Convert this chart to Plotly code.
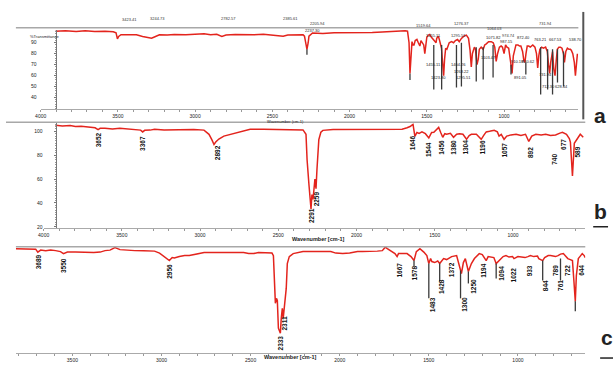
import plotly.graph_objects as go

# ---------------- data ----------------
# spectrum a
wn_a = [3904, 3840, 3770, 3712, 3650, 3583, 3530, 3512, 3503, 3495, 3480, 3440, 3380, 3340, 3300, 3282,
        3260, 3231, 3180, 3135, 3060, 3006, 2942, 2900, 2860, 2827, 2800, 2740, 2686, 2620, 2558, 2494,
        2450, 2430, 2400, 2350, 2301, 2292, 2282, 2276, 2268, 2263, 2240, 2173, 2100, 2045, 1980, 1917,
        1853, 1789, 1724, 1680, 1640, 1625, 1615, 1609, 1603, 1596, 1590, 1583, 1575, 1564, 1555, 1545,
        1538, 1532, 1520, 1513, 1505, 1500, 1490, 1481, 1470, 1455, 1440, 1436, 1425, 1417, 1405, 1398,
        1391, 1385, 1378, 1370, 1355, 1340, 1327, 1315, 1301, 1290, 1276, 1260, 1244, 1230, 1220, 1212,
        1205, 1192, 1185, 1175, 1167, 1160, 1148, 1135, 1125, 1115, 1100, 1083, 1070, 1060, 1051, 1042,
        1030, 1019, 1010, 1000, 990, 981, 970, 955, 948, 940, 930, 923, 910, 900, 891, 880, 872, 865,
        858, 850, 840, 830, 814, 800, 790, 782, 775, 768, 757, 745, 731, 720, 712, 705, 698, 690, 686,
        678, 670, 662, 655, 645, 635, 625, 615, 609, 600, 590, 580, 570, 564, 555, 545, 538, 530, 525]
t_a = [100.5, 100.9, 100.2, 100.9, 100.2, 100.5, 100, 99, 93.5, 95.8, 97.3, 97.5, 97.3, 95.8, 94.5, 94.2,
       95.5, 97.3, 97, 97.5, 97.3, 98, 98.2, 97.3, 97.8, 95.8, 97, 97.5, 97.3, 97.3, 97.8, 97,
       96.4, 96, 97, 97.3, 97.3, 96, 86, 84, 90, 96, 99, 98.5, 99.1, 99.1, 99.5, 99.5,
       99.3, 99.8, 100.5, 101, 100.9, 100.5, 90, 62, 80, 91, 88, 88, 92, 93, 90, 87,
       92, 91, 88, 80, 92, 95, 97, 97.5, 95, 92, 90, 94, 96, 92, 85, 72,
       60, 75, 85, 84, 90, 91, 90, 92, 93, 91, 94, 96, 97, 94, 83, 68,
       80, 86, 84, 70, 75, 84, 86, 84, 88, 89, 91, 91, 90, 86, 73, 80,
       86, 87, 86, 80, 88, 86, 85, 70, 62, 78, 86, 88, 88, 87, 87, 82, 74, 72,
       80, 87, 87, 86, 88, 86, 80, 67, 78, 84, 86, 85, 86, 82, 70, 62, 72, 80, 82,
       66, 60, 74, 84, 86, 86, 85, 80, 72, 82, 85, 84, 84, 83, 80, 72, 60, 74, 80]

# spectrum b
wn_b = [3924, 3880, 3830, 3797, 3760, 3734, 3700, 3671, 3652, 3639, 3608, 3560, 3513, 3460, 3418, 3380,
        3367, 3354, 3320, 3291, 3230, 3165, 3100, 3040, 2975, 2943, 2925, 2911, 2900, 2880, 2848, 2820,
        2785, 2750, 2722, 2680, 2595, 2520, 2468, 2400, 2342, 2323, 2316, 2304, 2297, 2291, 2285, 2278,
        2266, 2259, 2253, 2247, 2241, 2228, 2215, 2150, 2025, 1950, 1836, 1760, 1709, 1677, 1658, 1639,
        1627, 1614, 1600, 1582, 1560, 1538, 1520, 1506, 1475, 1462, 1449, 1436, 1424, 1400, 1380, 1360,
        1342, 1320, 1297, 1280, 1266, 1234, 1203, 1185, 1171, 1150, 1120, 1100, 1089, 1075, 1057, 1040,
        1013, 980, 949, 920, 899, 880, 854, 820, 791, 760, 728, 700, 684, 658, 640, 633, 620, 608,
        589, 570, 551]
t_b = [105, 104.5, 104.8, 104, 104.2, 103.8, 103.5, 103, 101.5, 102.5, 102.5, 102, 102.5, 102, 101.5, 101,
       99.5, 100.8, 101, 101.7, 101.2, 101.5, 101.7, 101.5, 101, 97.5, 93, 89, 91, 93.5, 96, 97,
       98.3, 99.5, 100.8, 101.7, 101.7, 101.7, 101.7, 101.5, 101.2, 97.5, 76, 55, 43, 35, 47, 43,
       60, 52, 68, 85, 93, 99.2, 100.8, 101.5, 101.7, 101.5, 101.7, 101.5, 101.7, 103, 104, 105.8,
       95.8, 99, 98.3, 99.5, 98, 94.5, 99, 99.2, 103.3, 99, 95, 98, 97.5, 98.3, 95, 97.5,
       98, 97.5, 93.3, 96.5, 97.5, 97.5, 93.3, 97, 99.5, 100, 100.8, 99.5, 96, 97.5, 93.3, 96,
       97, 97.5, 96.5, 97.5, 91.5, 96, 97.5, 97, 97.5, 96.5, 97, 98.5, 99.2, 97.5, 94, 91, 62.5, 90,
       93.3, 97.5, 95]

# spectrum c
wn_c = [3817, 3761, 3720, 3706, 3694, 3678, 3650, 3622, 3594, 3583, 3567, 3550, 3540, 3528, 3483, 3428,
        3380, 3344, 3317, 3289, 3261, 3233, 3180, 3150, 3100, 3039, 3011, 2983, 2972, 2956, 2940, 2928,
        2900, 2870, 2844, 2817, 2761, 2700, 2650, 2600, 2539, 2511, 2490, 2483, 2456, 2417, 2380, 2372,
        2367, 2361, 2355, 2350, 2344, 2333, 2328, 2322, 2317, 2311, 2300, 2294, 2283, 2261, 2206, 2150,
        2094, 2050, 2022, 1983, 1944, 1900, 1872, 1830, 1789, 1761, 1744, 1733, 1706, 1690, 1678, 1670,
        1650, 1622, 1600, 1583, 1570, 1550, 1528, 1511, 1500, 1490, 1483, 1467, 1450, 1439, 1430, 1417,
        1400, 1385, 1372, 1344, 1333, 1322, 1317, 1306, 1295, 1278, 1261, 1244, 1230, 1217, 1200, 1178,
        1167, 1150, 1135, 1122, 1106, 1090, 1083, 1067, 1050, 1030, 1022, 1000, 983, 960, 944, 930,
        911, 890, 883, 861, 850, 830, 817, 800, 789, 775, 761, 745, 733, 720, 706, 694, 686, 678,
        672, 661, 650, 639, 628, 622]
t_c = [102, 101.8, 102.2, 101.5, 98.5, 100.5, 100, 100.5, 100, 99.5, 99, 97, 98, 98.5, 98.5, 98.2,
       98, 98.5, 100, 100.5, 103, 101, 100, 100, 99.8, 99.5, 97.5, 94, 92, 90, 93, 92.5,
       94, 95, 95, 96, 98, 98, 98, 98, 98, 97, 96.5, 97, 98, 98, 97.5, 95,
       77, 47, 52, 50, 22, 17, 32, 42, 32, 44, 62, 87, 94, 97, 99, 99,
       99, 99, 97.5, 97, 97.5, 99, 99, 99, 99.5, 100, 103.5, 102, 99, 97, 94, 97,
       97, 97, 94, 90, 99, 102, 98.5, 95, 87, 92, 89, 88, 89.5, 87, 89, 92,
       91, 93, 94, 95, 88, 80, 77, 88, 92, 79, 87, 92, 95, 97, 96, 90,
       94, 93.5, 93, 87, 90, 93, 94, 95, 93.5, 94, 92, 94, 93.5, 93, 94, 95,
       94, 94.5, 92, 90, 93, 95, 95, 94, 94, 95, 96.5, 97, 95, 92, 91, 90, 70, 49,
       75, 92, 94.5, 97, 95, 93]

# peak label lines (wavenumber, top %T, bottom %T)
lead_a_wn = [2276, 1609, 1455, 1404, 1308, 1276, 1180, 1135, 1071, 955, 859, 763, 718, 686, 654, 615]
lead_a_top = [84, 62, 88, 88, 88, 90, 86, 86, 88, 70, 72, 86, 84, 84, 84, 82]
lead_a_bot = [79, 56, 47.3, 47.3, 49, 50, 54.5, 56.4, 58.2, 60.9, 60.9, 42.7, 47.3, 42.7, 53.6, 50]

lead_c_wn = [1583, 1500, 1439, 1322, 1278, 1122, 861, 761, 678]
lead_c_top = [90, 87, 87, 80, 79, 87, 90, 92, 49]
lead_c_bot = [84, 52, 69, 52, 67, 72, 70, 70, 39]

# peak labels
peaks_b = [3652, 3367, 2892, 2291, 2259, 1646, 1544, 1456, 1380, 1304, 1196, 1057, 892, 740, 677, 589]
peaks_b_t = [92.5, 90, 82.5, 29, 43, 90.8, 85, 86.7, 86.7, 86.7, 86.7, 84, 82.5, 76.7, 89, 82.5]

peaks_c = [3689, 3550, 2956, 2311, 2333, 1667, 1578, 1483, 1428, 1372, 1300, 1250, 1194, 1094, 1022,
           933, 844, 789, 761, 722, 644]
peaks_c_t = [89, 85, 79, 27, 7, 80, 78, 46, 64, 81, 46, 64, 80, 77, 76, 80, 65, 80, 65, 80, 80]

peaks_a = ["1455.11", "1404.26", "1423.80", "1295.51", "1263.22", "1103.47", "910.18", "840.62",
           "891.05", "731.94", "712.30", "628.44", "2237.30", "1071.82", "987.15", "872.40",
           "763.21", "667.53", "538.70"]
peaks_a_wn = [1455, 1295, 1423, 1263, 1276, 1103, 910, 840, 891, 731, 712, 628, 2237, 1071, 987, 872,
              763, 667, 538]
peaks_a_t = [70, 70, 58.2, 58.2, 64, 76.4, 72.7, 72.7, 58.2, 60.9, 50, 50, 100.9, 94.5, 90.9, 94.5,
             92.7, 92.7, 92.7]

top_a = ["3423.41", "3244.73", "2782.57", "2385.61", "2205.94", "1519.64", "1276.37", "1064.03",
         "731.94", "1455.11", "1295.51", "974.74"]
top_a_wn = [3423, 3244, 2782, 2385, 2205, 1519, 1276, 1064, 731, 1455, 1295, 974]
top_a_y = [15, 14, 14, 14, 19, 21, 19, 24, 19, 31, 31, 31]

# ---------------- figure ----------------
W, H = 613, 366


def px(x):
    return x / W


def py(y):
    return 1 - y / H


RED = "#e3241d"
FONT = "Liberation Sans, Arial, sans-serif"

fig = go.Figure()
for xs, ys, ax, ay in [(wn_a, t_a, "x", "y"), (wn_b, t_b, "x2", "y2"), (wn_c, t_c, "x3", "y3")]:
    fig.add_trace(go.Scatter(x=xs, y=ys, xaxis=ax, yaxis=ay, mode="lines",
                             line=dict(color=RED, width=1.5), hoverinfo="skip"))


def leader(wns, tops, bots):
    xs, ys = [], []
    for w, a, b in zip(wns, tops, bots):
        xs += [w, w, None]
        ys += [a, b, None]
    return xs, ys


lx, ly = leader(lead_a_wn, lead_a_top, lead_a_bot)
fig.add_trace(go.Scatter(x=lx, y=ly, xaxis="x", yaxis="y", mode="lines",
                         line=dict(color="#3a3a3a", width=1.3), hoverinfo="skip"))
lx, ly = leader(lead_c_wn, lead_c_top, lead_c_bot)
fig.add_trace(go.Scatter(x=lx, y=ly, xaxis="x3", yaxis="y3", mode="lines",
                         line=dict(color="#3a3a3a", width=1.3), hoverinfo="skip"))

tickfont = dict(family=FONT, size=5, color="#222")
common_x = dict(showline=True, linecolor="#aaa", linewidth=1, ticks="outside", ticklen=2,
                tickcolor="#999", tickfont=tickfont, showgrid=False, zeroline=False,
                tickmode="linear", tick0=500, dtick=500,
                minor=dict(ticks="outside", ticklen=2, tickcolor="#999", dtick=100))
common_y = dict(showline=True, linecolor="#777", linewidth=1, ticks="outside", ticklen=2,
                tickcolor="#777", tickfont=tickfont, showgrid=False, zeroline=False,
                anchor="free", position=px(50),
                minor=dict(ticks="outside", ticklen=1, tickcolor="#999", dtick=2))

fig.update_layout(
    width=W, height=H, margin=dict(l=0, r=0, t=0, b=0),
    paper_bgcolor="white", plot_bgcolor="white", showlegend=False,
    xaxis=dict(common_x, domain=[px(35), px(578)], range=[4000, 519], anchor="y"),
    yaxis=dict(common_y, domain=[py(110), py(30)], range=[29.1, 101.8],
               tickvals=[90, 80, 70, 60, 50, 40], ticklabelstandoff=16),
    xaxis2=dict(common_x, domain=[px(38), px(585)], range=[4000, 538], anchor="y2"),
    yaxis2=dict(common_y, domain=[py(229), py(124)], range=[19.2, 106.7],
                tickvals=[100, 80, 60, 40, 20], ticklabelstandoff=10),
    xaxis3=dict(common_x, domain=[px(10), px(585)], range=[3817, 622], anchor="y3"),
    yaxis3=dict(domain=[py(355), py(248)], range=[-3, 104], visible=False),
)

ann = []
# panel letters
for letter, x, y in [("a", 592, 103), ("b", 592, 213), ("c", 599, 353)]:
    ann.append(dict(text=f"<b>{letter}</b>", x=px(x), y=py(y), xref="paper", yref="paper",
                    xanchor="left", showarrow=False,
                    font=dict(family=FONT, size=21, color="#222")))
# axis titles
ann.append(dict(text="%Transmittance", x=px(22), y=py(32), xref="paper", yref="paper",
                showarrow=False, font=dict(family=FONT, size=4, color="#222")))
ann.append(dict(text="Wavenumber (cm-1)", x=px(282), y=py(118), xref="paper", yref="paper",
                showarrow=False, font=dict(family=FONT, size=4, color="#222")))
ann.append(dict(text="<b>Wavenumber [cm-1]</b>", x=px(316), y=py(240), xref="paper", yref="paper",
                showarrow=False, font=dict(family=FONT, size=5.5, color="#222")))
ann.append(dict(text="<b>Wavenumber [cm-1]</b>", x=px(287), y=py(364), xref="paper", yref="paper",
                showarrow=False, font=dict(family=FONT, size=5.5, color="#222")))
# panel a labels above the plot
for t, w, y in zip(top_a, top_a_wn, top_a_y):
    ann.append(dict(text=t, x=w, y=py(y), xref="x", yref="paper", showarrow=False,
                    font=dict(family=FONT, size=4, color="#333")))
# panel a labels inside
for t, w, v in zip(peaks_a, peaks_a_wn, peaks_a_t):
    ann.append(dict(text=t, x=w, y=v, xref="x", yref="y", showarrow=False,
                    font=dict(family=FONT, size=4, color="#222")))
# rotated labels b and c
for w, v in zip(peaks_b, peaks_b_t):
    ann.append(dict(text=f"<b>{w}</b>", x=w, y=v, xref="x2", yref="y2", showarrow=False,
                    textangle=-90, font=dict(family=FONT, size=6.5, color="#111")))
for w, v in zip(peaks_c, peaks_c_t):
    ann.append(dict(text=f"<b>{w}</b>", x=w, y=v, xref="x3", yref="y3", showarrow=False,
                    textangle=-90, font=dict(family=FONT, size=6.5, color="#111")))
fig.update_layout(annotations=ann)

shapes = [
    dict(type="line", xref="paper", yref="paper", x0=px(10), x1=px(578), y0=py(28), y1=py(28),
         line=dict(color="#a8a8a8", width=1.5)),
    dict(type="line", xref="paper", yref="paper", x0=px(0), x1=px(585), y0=py(123), y1=py(123),
         line=dict(color="#a8a8a8", width=1.5)),
    dict(type="line", xref="paper", yref="paper", x0=px(10), x1=px(585), y0=py(248), y1=py(248),
         line=dict(color="#a8a8a8", width=1.5)),
    dict(type="line", xref="paper", yref="paper", x0=px(583), x1=px(583), y0=py(12), y1=py(120),
         line=dict(color="#555", width=2)),
    dict(type="line", xref="paper", yref="paper", x0=px(593), x1=px(608), y0=py(228), y1=py(228),
         line=dict(color="#222", width=1.5)),
    dict(type="line", xref="paper", yref="paper", x0=px(600), x1=px(613), y0=py(360), y1=py(360),
         line=dict(color="#222", width=1.5)),
]
fig.update_layout(shapes=shapes)

fig.write_html("out.html", config={"displayModeBar": False},
               post_script="document.body.style.margin='0';document.body.style.overflow='hidden';")
